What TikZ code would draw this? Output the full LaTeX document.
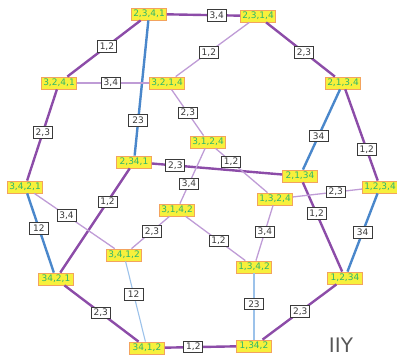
\documentclass[tikz,border=0pt]{standalone}
\usepackage{fontspec}
\setmainfont{DejaVu Sans}
\usetikzlibrary{positioning}
\definecolor{pyell}{HTML}{F7F03C}
\definecolor{porng}{HTML}{F3A35E}
\definecolor{pgrn}{HTML}{2FB66C}
\definecolor{ppurp}{HTML}{8C4CA8}
\definecolor{plpurp}{HTML}{BF9CD6}
\definecolor{pblue}{HTML}{4A87CB}
\definecolor{plblue}{HTML}{9CC2EA}
\definecolor{pgrey}{HTML}{3A3A3A}

\begin{document}
\begin{tikzpicture}[x=1pt, y=-1pt, font=\fontsize{9}{10}\selectfont,
  perm/.style={draw=porng, fill=pyell, text=pgrn, line width=0.8pt,
               inner sep=1.6pt, minimum height=12pt, minimum width=35pt},
  lbl/.style={draw=pgrey, fill=white, text=pgrey, line width=0.8pt,
              inner sep=1.6pt, minimum height=11.5pt, minimum width=19pt},
  heavy/.style={draw=ppurp, line width=2.4pt},
  hblue/.style={draw=pblue, line width=2.4pt},
  light/.style={draw=plpurp, line width=1.3pt},
  lblue/.style={draw=plblue, line width=1.1pt}]
  \useasboundingbox (0,0) rectangle (397,358);
  % --- outer ring of permutations
  \node[perm] (t2341) at (149,14)  {2,3,4,1};
  \node[perm] (t2314) at (258,16)  {2,3,1,4};
  \node[perm] (t3241) at (59,83)   {3,2,4,1};
  \node[perm] (t3214) at (167,83)  {3,2,1,4};
  \node[perm] (t2134) at (343,83)  {2,1,3,4};
  \node[perm] (t3421) at (25,187)  {3,4,2,1};
  \node[perm] (t1234) at (380,187) {1,2,3,4};
  % --- inner permutations
  \node[perm] (t3124) at (208,142) {3,1,2,4};
  \node[perm] (t1324) at (275,199) {1,3,2,4};
  \node[perm] (t3142) at (177,210) {3,1,4,2};
  \node[perm] (t3412) at (124,255) {3,4,1,2};
  \node[perm] (t1342) at (254,267) {1,3,4,2};
  % --- merged blocks
  \node[perm] (m2341) at (134,162) {2,34,1};
  \node[perm] (m2134) at (300,176) {2,1,34};
  \node[perm] (m3421) at (56,279)  {34,2,1};
  \node[perm] (m1234) at (345,278) {1,2,34};
  \node[perm] (m3412) at (147,348) {34,1,2};
  \node[perm] (m1342) at (254,346) {1,34,2};
  \node[text=pgrey!85, font=\fontsize{20}{20}\selectfont, anchor=base,
        inner sep=0pt] (tag) at (341,353) {IIY};
  % --- heavy edges
  \draw[heavy] (t2341) -- node[lbl,pos=.68] (e1) {3,4} (t2314);
  \draw[heavy] (t2341) -- node[lbl,pos=.46] (e2) {1,2} (t3241);
  \draw[heavy] (t2314) -- node[lbl,pos=.55] (e3) {2,3} (t2134);
  \draw[heavy] (t3241) -- node[lbl,pos=.47] (e4) {2,3} (t3421);
  \draw[heavy] (t2134) -- node[lbl,pos=.66] (e5) {1,2} (t1234);
  \draw[heavy] (m2341) -- node[lbl,pos=.18] (e6) {2,3} (m2134);
  \draw[heavy] (m2341) -- node[lbl,pos=.32] (e7) {1,2} (m3421);
  \draw[heavy] (m2134) -- node[lbl,pos=.35] (e8) {1,2} (m1234);
  \draw[heavy] (m3421) -- node[lbl,pos=.49] (e9) {2,3} (m3412);
  \draw[heavy] (m3412) -- node[lbl,pos=.40] (e10) {1,2} (m1342);
  \draw[heavy] (m1234) -- node[lbl,pos=.49] (e11) {2,3} (m1342);
  % --- blue edges
  \draw[hblue] (t2341) -- node[lbl,pos=.74] (e12) {23} (m2341);
  \draw[hblue] (t2134) -- node[lbl,pos=.58] (e13) {34} (m2134);
  \draw[hblue] (t3421) -- node[lbl,pos=.44] (e14) {12} (m3421);
  \draw[hblue] (t1234) -- node[lbl,pos=.50] (e15) {34} (m1234);
  % --- light edges
  \draw[light] (t3241) -- node[lbl,pos=.47] (e16) {3,4} (t3214);
  \draw[light] (t2314) -- node[lbl,pos=.55] (e17) {1,2} (t3214);
  \draw[light] (t3214) -- node[lbl,pos=.51] (e18) {2,3} (t3124);
  \draw[light] (t3124) -- node[lbl,pos=.64] (e19) {3,4} (t3142);
  \draw[light] (t3124) -- node[lbl,pos=.30] (e20) {1,2} (t1324);
  \draw[light] (t1324) -- node[lbl,pos=.62] (e21) {2,3} (t1234);
  \draw[light] (t1324) -- node[lbl,pos=.48] (e22) {3,4} (t1342);
  \draw[light] (t3142) -- node[lbl,pos=.46] (e23) {2,3} (t3412);
  \draw[light] (t3142) -- node[lbl,pos=.55] (e24) {1,2} (t1342);
  \draw[light] (t3421) -- node[lbl,pos=.40] (e25) {3,4} (t3412);
  % --- light blue edges
  \draw[lblue] (t3412) -- node[lbl,pos=.41] (e26) {12} (m3412);
  \draw[lblue] (t1342) -- node[lbl,pos=.46] (e27) {23} (m1342);
\end{tikzpicture}
\end{document}
